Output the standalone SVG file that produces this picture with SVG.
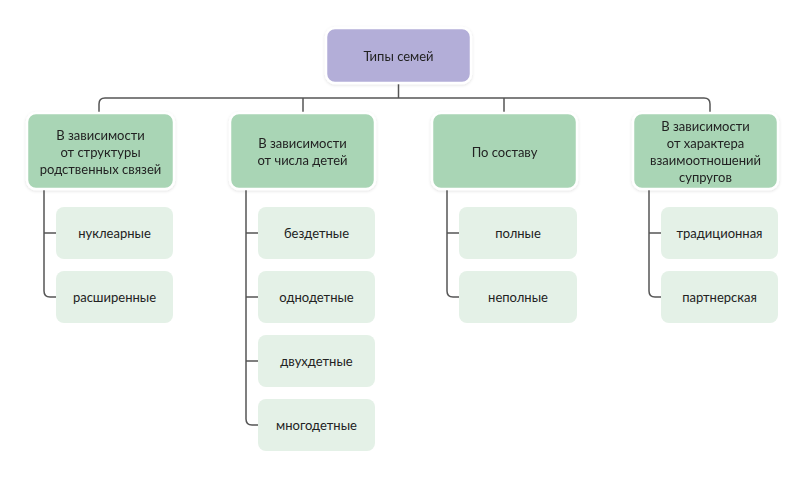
<svg xmlns="http://www.w3.org/2000/svg" width="807" height="481" viewBox="0 0 807 481">
<defs>
<filter id="sh" x="-10%" y="-10%" width="120%" height="130%">
<feDropShadow dx="0" dy="1" stdDeviation="1.5" flood-color="#000" flood-opacity="0.12"/>
</filter>
<style>
text{font-family:"Lato","Open Sans","Liberation Sans",sans-serif;font-size:13px;fill:#222;text-anchor:middle;dominant-baseline:central}
.root{fill:#b3aed8;stroke:#fff;stroke-width:2.5}
.cat{fill:#a9d5b5;stroke:#fff;stroke-width:2.5}
.leaf{fill:#e4f1e7}
.ln{fill:none;stroke:#555;stroke-width:1.5}
</style>
</defs>
<rect width="807" height="481" fill="#fff"/>
<g id="connectors">
<path class="ln" d="M398.5 83 V98"/>
<path class="ln" d="M99 113 V104 Q99 98 105 98 H704 Q710 98 710 104 V113"/>
<path class="ln" d="M303 98 V113"/>
<path class="ln" d="M504 98 V113"/>
<path class="ln" d="M44 189 V291 Q44 297 50 297 H56 M44 233 H56"/>
<path class="ln" d="M246 189 V419 Q246 425 252 425 H258 M246 233 H258 M246 297 H258 M246 361 H258"/>
<path class="ln" d="M447 189 V291 Q447 297 453 297 H459 M447 233 H459"/>
<path class="ln" d="M649 189 V291 Q649 297 655 297 H661 M649 233 H661"/>
</g>
<g id="root" filter="url(#sh)">
<rect class="root" x="326" y="28" width="145" height="55" rx="9"/>
<text x="398.5" y="55.5">Типы семей</text>
</g>
<g id="cat1" filter="url(#sh)">
<rect class="cat" x="27" y="113" width="147" height="76" rx="9"/>
<text x="100.5" y="134.5">В зависимости</text>
<text x="100.5" y="151.5">от структуры</text>
<text x="100.5" y="168.5">родственных связей</text>
</g>
<g id="cat2" filter="url(#sh)">
<rect class="cat" x="230" y="113" width="145" height="76" rx="9"/>
<text x="302.5" y="143">В зависимости</text>
<text x="302.5" y="160">от числа детей</text>
</g>
<g id="cat3" filter="url(#sh)">
<rect class="cat" x="432" y="113" width="145" height="76" rx="9"/>
<text x="504.5" y="152">По составу</text>
</g>
<g id="cat4" filter="url(#sh)">
<rect class="cat" x="633" y="113" width="145" height="76" rx="9"/>
<text x="705.5" y="126">В зависимости</text>
<text x="705.5" y="143">от характера</text>
<text x="705.5" y="160">взаимоотношений</text>
<text x="705.5" y="177">супругов</text>
</g>
<g id="leaf1a"><rect class="leaf" x="56" y="207" width="117" height="52" rx="8"/><text x="114.5" y="233">нуклеарные</text></g>
<g id="leaf1b"><rect class="leaf" x="56" y="271" width="117" height="52" rx="8"/><text x="114.5" y="297">расширенные</text></g>
<g id="leaf2a"><rect class="leaf" x="258" y="207" width="117" height="52" rx="8"/><text x="316.5" y="233">бездетные</text></g>
<g id="leaf2b"><rect class="leaf" x="258" y="271" width="117" height="52" rx="8"/><text x="316.5" y="297">однодетные</text></g>
<g id="leaf2c"><rect class="leaf" x="258" y="335" width="117" height="52" rx="8"/><text x="316.5" y="361">двухдетные</text></g>
<g id="leaf2d"><rect class="leaf" x="258" y="399" width="117" height="52" rx="8"/><text x="316.5" y="425">многодетные</text></g>
<g id="leaf3a"><rect class="leaf" x="459" y="207" width="118" height="52" rx="8"/><text x="518" y="233">полные</text></g>
<g id="leaf3b"><rect class="leaf" x="459" y="271" width="118" height="52" rx="8"/><text x="518" y="297">неполные</text></g>
<g id="leaf4a"><rect class="leaf" x="661" y="207" width="117" height="52" rx="8"/><text x="719.5" y="233">традиционная</text></g>
<g id="leaf4b"><rect class="leaf" x="661" y="271" width="117" height="52" rx="8"/><text x="719.5" y="297">партнерская</text></g>
</svg>
